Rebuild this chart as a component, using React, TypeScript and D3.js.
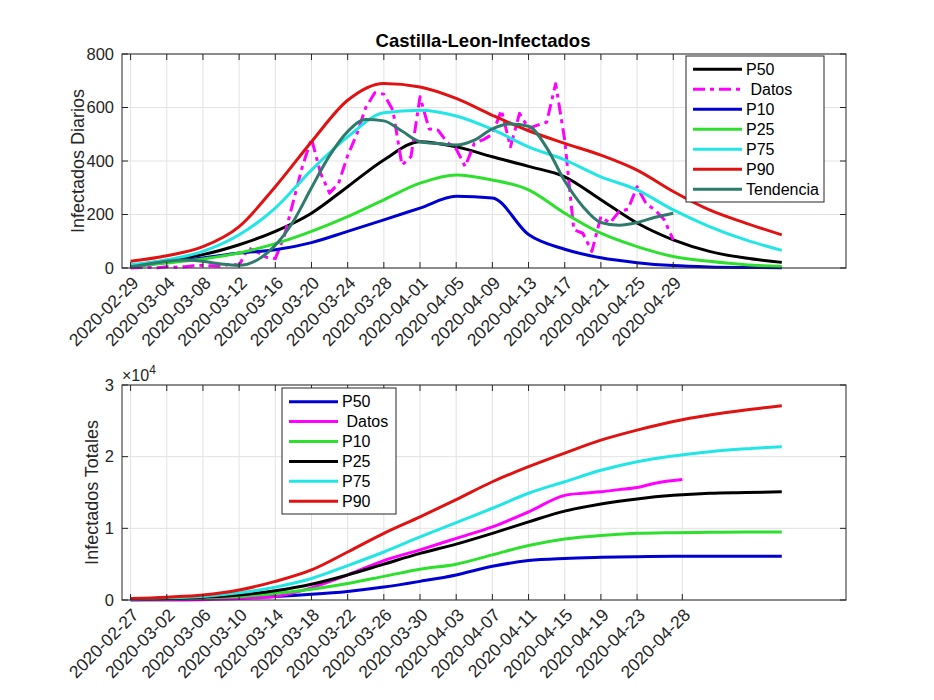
import * as d3 from 'd3';

// ---- top panel: daily infected ----
const topTickDays = [0, 4, 8, 12, 16, 20, 24, 28, 32, 36, 40, 44, 48, 52, 56, 60];
const topTickLabels = [
  '2020-02-29', '2020-03-04', '2020-03-08', '2020-03-12', '2020-03-16', '2020-03-20',
  '2020-03-24', '2020-03-28', '2020-04-01', '2020-04-05', '2020-04-09', '2020-04-13',
  '2020-04-17', '2020-04-21', '2020-04-25', '2020-04-29',
];
const topYTicks = [0, 200, 400, 600, 800];

// percentile curves sampled every 4 days (day 0 = 2020-02-29)
const pctDays = [0, 4, 8, 12, 16, 20, 24, 28, 32, 36, 40, 44, 48, 52, 56, 60, 64, 68, 72];
const dailyP50 = [8, 28, 50, 87, 137, 205, 304, 404, 472, 453, 416, 380, 341, 255, 168, 105, 62, 37, 21];
const dailyP10 = [5, 21, 37, 56, 68, 95, 137, 180, 224, 268, 262, 125, 70, 38, 20, 9, 4, 2, 1];
const dailyP25 = [6, 19, 34, 56, 91, 137, 192, 255, 317, 348, 329, 292, 205, 130, 80, 43, 25, 12, 6];
const dailyP75 = [12, 31, 62, 124, 224, 366, 490, 580, 590, 568, 518, 453, 404, 341, 292, 217, 155, 105, 66];
const dailyP90 = [25, 46, 80, 155, 304, 472, 627, 690, 677, 634, 571, 513, 466, 422, 366, 286, 217, 168, 124];

// observed daily cases, days 0..60
const dailyDatos = [
  0, 2, 3, 1, 5, 3, 5, 8, 10, 8, 6, 15, 10, 75, 60, 40, 35, 120, 250, 380,
  484, 355, 280, 317, 420, 500, 600, 655, 650, 590, 385, 416, 640, 520, 515, 470, 445, 379, 466, 480,
  500, 590, 453, 578, 522, 534, 545, 689, 478, 143, 130, 62, 192, 168, 211, 220, 304, 240, 217, 180,
  105,
];

// trend curve every 2 days
const trendDays = [0, 2, 4, 6, 8, 10, 12, 14, 16, 18, 20, 22, 24, 26, 28, 30, 32, 34, 36, 38, 40, 42, 44, 46, 48, 50, 52, 54, 56, 58, 60];
const trendValues = [5, 15, 25, 30, 25, 15, 10, 30, 85, 175, 300, 420, 510, 555, 550, 512, 472, 465, 460, 478, 520, 538, 530, 450, 325, 230, 170, 160, 170, 190, 205];

// ---- bottom panel: cumulative infected (x1e4) ----
const botTickDays = [0, 4, 8, 12, 16, 20, 24, 28, 32, 36, 40, 44, 48, 52, 56, 61];
const botTickLabels = [
  '2020-02-27', '2020-03-02', '2020-03-06', '2020-03-10', '2020-03-14', '2020-03-18',
  '2020-03-22', '2020-03-26', '2020-03-30', '2020-04-03', '2020-04-07', '2020-04-11',
  '2020-04-15', '2020-04-19', '2020-04-23', '2020-04-28',
];
const botYTicks = [0, 1, 2, 3];

const totalBlue = [0.005, 0.01, 0.02, 0.03, 0.05, 0.08, 0.12, 0.18, 0.26, 0.35, 0.47, 0.55, 0.58, 0.595, 0.605, 0.61, 0.61, 0.61, 0.61];
const totalGreen = [0.01, 0.015, 0.03, 0.05, 0.09, 0.15, 0.23, 0.33, 0.43, 0.5, 0.63, 0.76, 0.85, 0.9, 0.93, 0.94, 0.945, 0.95, 0.95];
const totalBlack = [0.01, 0.02, 0.04, 0.07, 0.13, 0.22, 0.35, 0.5, 0.65, 0.78, 0.93, 1.09, 1.24, 1.34, 1.41, 1.46, 1.49, 1.5, 1.51];
const totalCyan = [0.01, 0.03, 0.05, 0.1, 0.18, 0.3, 0.48, 0.67, 0.88, 1.08, 1.28, 1.49, 1.65, 1.81, 1.93, 2.01, 2.07, 2.11, 2.14];
const totalRed = [0.02, 0.04, 0.07, 0.14, 0.26, 0.42, 0.67, 0.93, 1.16, 1.4, 1.65, 1.86, 2.05, 2.23, 2.37, 2.49, 2.58, 2.65, 2.71];

const totalDatosDays = [0, 4, 8, 12, 16, 20, 24, 28, 32, 36, 40, 44, 48, 50, 52, 54, 56, 58, 61];
const totalDatos = [0, 0, 0.005, 0.02, 0.05, 0.17, 0.35, 0.55, 0.7, 0.86, 1.02, 1.23, 1.46, 1.49, 1.51, 1.54, 1.57, 1.63, 1.68];

const FONT = '"Liberation Sans", Arial, Helvetica, sans-serif';
const AXIS = '#262626';
const GRID = '#e3e3e3';

type Series = { name: string; color: string; days: number[]; values: number[]; dash?: string; curve?: d3.CurveFactory };

const C = {
  black: '#000000',
  magenta: '#ff00ff',
  blue: '#0000d0',
  green: '#2ee02e',
  cyan: '#22e6e6',
  red: '#e01212',
  teal: '#2e7b6b',
};

const topSeries: Series[] = [
  { name: 'P50', color: C.black, days: pctDays, values: dailyP50 },
  { name: ' Datos', color: C.magenta, days: dailyDatos.map((_, i) => i), values: dailyDatos, dash: '12 5 4 5', curve: d3.curveLinear },
  { name: 'P10', color: C.blue, days: pctDays, values: dailyP10 },
  { name: 'P25', color: C.green, days: pctDays, values: dailyP25 },
  { name: 'P75', color: C.cyan, days: pctDays, values: dailyP75 },
  { name: 'P90', color: C.red, days: pctDays, values: dailyP90 },
  { name: 'Tendencia', color: C.teal, days: trendDays, values: trendValues },
];

const botSeries: Series[] = [
  { name: 'P50', color: C.blue, days: pctDays, values: totalBlue },
  { name: ' Datos', color: C.magenta, days: totalDatosDays, values: totalDatos },
  { name: 'P10', color: C.green, days: pctDays, values: totalGreen },
  { name: 'P25', color: C.black, days: pctDays, values: totalBlack },
  { name: 'P75', color: C.cyan, days: pctDays, values: totalCyan },
  { name: 'P90', color: C.red, days: pctDays, values: totalRed },
];

const X0 = 122;
const X1 = 846;

function Panel({
  top, bottom, yMax, yTicks, tickDays, tickLabels, series, ylabel, ylabelX,
  legend,
}: {
  top: number; bottom: number; yMax: number; yTicks: number[]; tickDays: number[]; tickLabels: string[];
  series: Series[]; ylabel: string; ylabelX: number;
  legend: { x: number; y: number; w: number; h: number; row0: number; rowStep: number };
}) {
  const x = d3.scaleLinear().domain([-0.95, 79.1]).range([X0, X1]);
  const y = d3.scaleLinear().domain([0, yMax]).range([bottom, top]);
  const tickLen = 6;

  return (
    <g>
      {/* grid */}
      {tickDays.map((d) => (
        <line key={'gx' + d} x1={x(d)} x2={x(d)} y1={top} y2={bottom} stroke={GRID} strokeWidth={1} />
      ))}
      {yTicks.map((t) => (
        <line key={'gy' + t} x1={X0} x2={X1} y1={y(t)} y2={y(t)} stroke={GRID} strokeWidth={1} />
      ))}

      {/* lines */}
      {series.map((s) => {
        const line = d3
          .line<number>()
          .x((_, i) => x(s.days[i]))
          .y((v) => y(v))
          .curve(s.curve ?? d3.curveMonotoneX);
        return (
          <path
            key={s.name}
            d={line(s.values) || ''}
            fill="none"
            stroke={s.color}
            strokeWidth={3}
            strokeDasharray={s.dash}
            strokeLinejoin="round"
          />
        );
      })}

      {/* box */}
      <rect x={X0} y={top} width={X1 - X0} height={bottom - top} fill="none" stroke={AXIS} strokeWidth={1} />
      {tickDays.map((d) => (
        <g key={'tx' + d}>
          <line x1={x(d)} x2={x(d)} y1={bottom} y2={bottom - tickLen} stroke={AXIS} />
          <line x1={x(d)} x2={x(d)} y1={top} y2={top + tickLen} stroke={AXIS} />
        </g>
      ))}
      {yTicks.map((t) => (
        <g key={'ty' + t}>
          <line x1={X0} x2={X0 + tickLen} y1={y(t)} y2={y(t)} stroke={AXIS} />
          <line x1={X1} x2={X1 - tickLen} y1={y(t)} y2={y(t)} stroke={AXIS} />
          <text x={X0 - 8} y={y(t)} dy="0.35em" textAnchor="end" fontSize={16.5} fill={AXIS}>
            {t}
          </text>
        </g>
      ))}

      {/* date labels */}
      {tickDays.map((d, i) => (
        <text
          key={'lx' + d}
          transform={`translate(${x(d) + 9},${bottom + 16}) rotate(-45)`}
          textAnchor="end"
          fontSize={17.5}
          fill={AXIS}
        >
          {tickLabels[i]}
        </text>
      ))}

      <text
        transform={`translate(${ylabelX},${(top + bottom) / 2}) rotate(-90)`}
        textAnchor="middle"
        dy="0.35em"
        fontSize={18}
        fill={AXIS}
      >
        {ylabel}
      </text>

      {/* legend */}
      <rect x={legend.x} y={legend.y} width={legend.w} height={legend.h} fill="#fff" stroke={AXIS} strokeWidth={1} />
      {series.map((s, i) => {
        const ry = legend.row0 + i * legend.rowStep;
        return (
          <g key={'lg' + s.name}>
            <line x1={legend.x + 7} x2={legend.x + 56} y1={ry} y2={ry} stroke={s.color} strokeWidth={3} strokeDasharray={s.dash} />
            <text x={legend.x + 60} y={ry} dy="0.35em" fontSize={16} fill="#000" style={{ whiteSpace: 'pre' }}>
              {s.name}
            </text>
          </g>
        );
      })}
    </g>
  );
}

export default function App() {
  return (
    <svg width={934} height={700} style={{ display: 'block', margin: '-8px', fontFamily: FONT, background: '#fff' }}>
      <rect width={934} height={700} fill="#fff" />
      <text x={483} y={47} textAnchor="middle" fontSize={18.5} fontWeight="bold" fill="#000">
        Castilla-Leon-Infectados
      </text>
      <Panel
        top={54}
        bottom={268}
        yMax={800}
        yTicks={topYTicks}
        tickDays={topTickDays}
        tickLabels={topTickLabels}
        series={topSeries}
        ylabel="Infectados Diarios"
        ylabelX={78}
        legend={{ x: 686, y: 56, w: 138, h: 146, row0: 69.3, rowStep: 20 }}
      />
      <Panel
        top={385}
        bottom={600}
        yMax={3}
        yTicks={botYTicks}
        tickDays={botTickDays}
        tickLabels={botTickLabels}
        series={botSeries}
        ylabel="Infectados Totales"
        ylabelX={92}
        legend={{ x: 282, y: 388, w: 114, h: 126, row0: 401.7, rowStep: 19.9 }}
      />
      <text x={122} y={381} fontSize={16} fill={AXIS}>
        ×10
        <tspan dy={-7} fontSize={12}>4</tspan>
      </text>
    </svg>
  );
}
